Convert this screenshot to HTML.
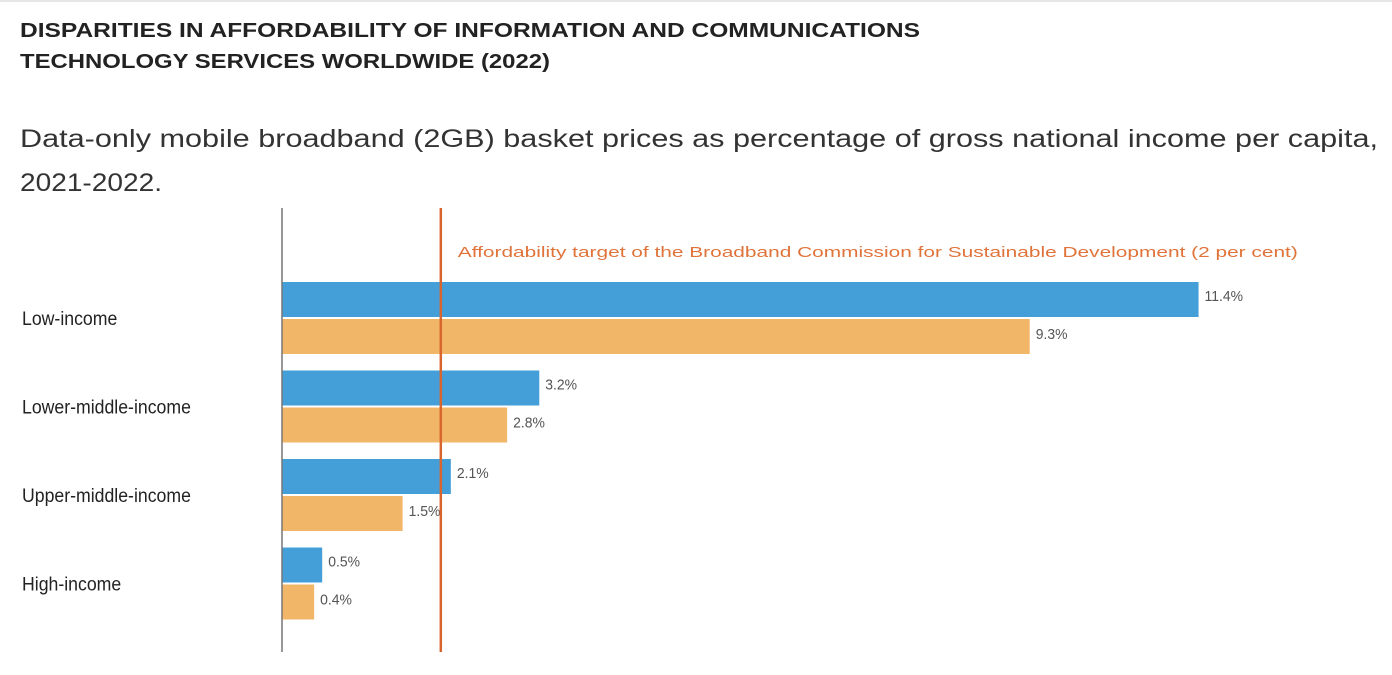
<!DOCTYPE html>
<html><head><meta charset="utf-8"><style>
html,body{margin:0;padding:0;background:#fff;width:1392px;height:675px;overflow:hidden}
svg{display:block;font-family:"Liberation Sans",sans-serif}
</style></head><body>
<svg id="chart" width="1392" height="675">
<line x1="0" y1="1" x2="1392" y2="1" stroke="#ccc" stroke-width="1"/>
<text x="20" y="37" font-size="20" font-weight="bold" fill="#222" textLength="900" lengthAdjust="spacingAndGlyphs">DISPARITIES IN AFFORDABILITY OF INFORMATION AND COMMUNICATIONS</text>
<text x="20" y="68" font-size="20" font-weight="bold" fill="#222" textLength="530" lengthAdjust="spacingAndGlyphs">TECHNOLOGY SERVICES WORLDWIDE (2022)</text>
<text x="20" y="147" font-size="25" fill="#333" textLength="1358" lengthAdjust="spacingAndGlyphs">Data-only mobile broadband (2GB) basket prices as percentage of gross national income per capita,</text>
<text x="20" y="191" font-size="25" fill="#333" textLength="142" lengthAdjust="spacingAndGlyphs">2021-2022.</text>
<g id="bars"></g>
<line x1="282" y1="208" x2="282" y2="652" stroke="#777" stroke-width="1.5"/>
<g id="target"></g>
</svg>
<script>
const categories = ["Low-income","Lower-middle-income","Upper-middle-income","High-income"];
const series2021 = [11.4, 3.2, 2.1, 0.5];
const series2022 = [9.3, 2.8, 1.5, 0.4];
const labels2021 = ["11.4%","3.2%","2.1%","0.5%"];
const labels2022 = ["9.3%","2.8%","1.5%","0.4%"];
const targetValue = 2;

const NS = "http://www.w3.org/2000/svg";
const x0 = 282, pxPer = 80.4;
const xs = v => x0 + v * pxPer;
const groupTop = i => 282 + i * 88.5;
const barH = 35;
const g = document.getElementById('bars');
function mk(tag, attrs, parent){const e=document.createElementNS(NS,tag);for(const k in attrs)e.setAttribute(k,attrs[k]);parent.appendChild(e);return e;}
categories.forEach((c,i)=>{
  const y = groupTop(i);
  const t = mk('text',{x:22,y:y+43,'font-size':19,fill:'#222'},g);
  t.textContent = c;
  
  
  const b1 = mk('rect',{x:x0,y:y,width:xs(series2021[i])-x0,height:barH,fill:'#449fd8'},g);
  
  
  const b2 = mk('rect',{x:x0,y:y+37,width:xs(series2022[i])-x0,height:barH,fill:'#f2b668'},g);
  
  
  const l1 = mk('text',{x:xs(series2021[i])+6,y:y+19,'font-size':15,fill:'#555'},g);
  l1.textContent = labels2021[i];
  
  
  const l2 = mk('text',{x:xs(series2022[i])+6,y:y+57,'font-size':15,fill:'#555'},g);
  l2.textContent = labels2022[i];
  
  
});
// condense category and value labels slightly like the reference
g.querySelectorAll('text').forEach(t=>{
  const w = t.getComputedTextLength();
  t.setAttribute('textLength', (w*0.93).toFixed(1));
  t.setAttribute('lengthAdjust', 'spacingAndGlyphs');
});
const tg = document.getElementById('target');
const tx = xs(targetValue) - 2;
const tl = mk('line',{x1:tx,y1:208,x2:tx,y2:652,stroke:'#d9652e','stroke-width':2.5},tg);


const tt = mk('text',{x:tx+17,y:257,'font-size':15,fill:'#e0733a',textLength:840,lengthAdjust:'spacingAndGlyphs'},tg);
tt.textContent = "Affordability target of the Broadband Commission for Sustainable Development  (2 per cent)";


</script>
</body></html>
